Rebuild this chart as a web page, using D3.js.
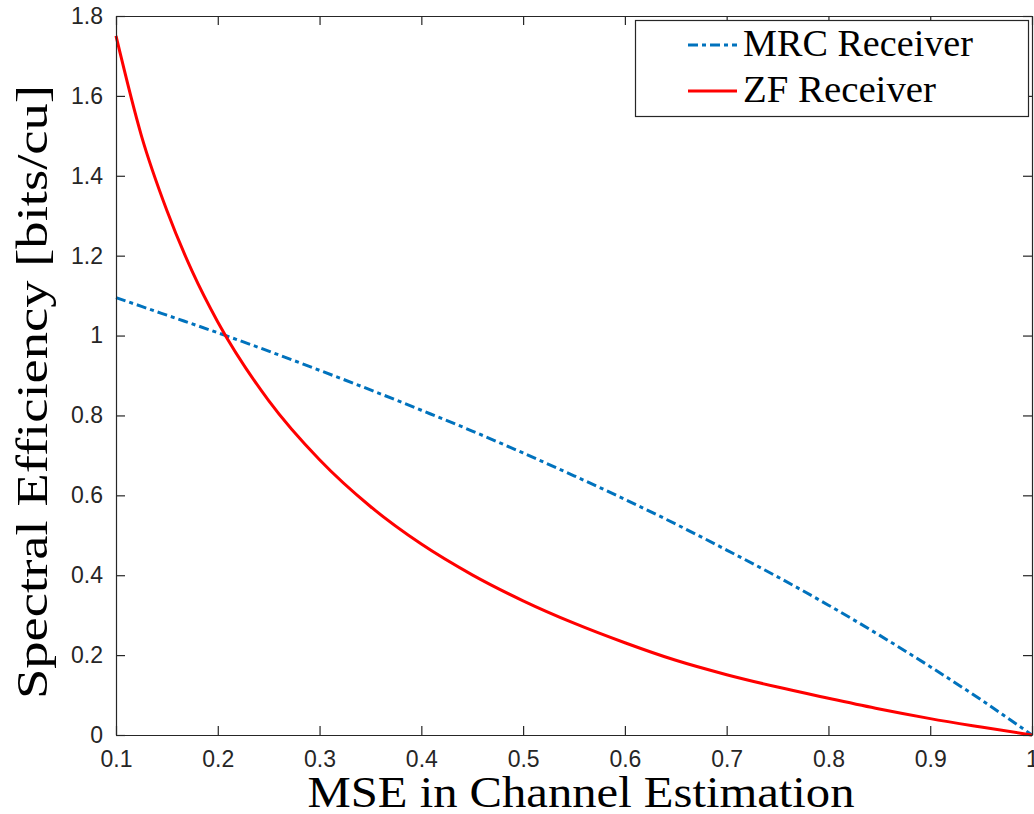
<!DOCTYPE html>
<meta charset="utf-8">
<title>Spectral Efficiency vs MSE</title>
<style type="text/css">
  body {margin:0; background:#fff;}
  .tick text {font-family:"Liberation Sans", Arial, sans-serif; font-size:23px; fill:#262626;}
  .lbl {font-family:"Liberation Serif", "Times New Roman", serif; fill:#000;}
</style>
<body>
<script src="https://d3js.org/d3.v7.min.js"></script>
<div id="chart"></div>
<script>
// MSE values (x) for the MRC curve
var mseMrc = [0.1, 0.15, 0.2, 0.25, 0.3, 0.35, 0.4, 0.45, 0.5, 0.55,
              0.6, 0.65, 0.7, 0.75, 0.8, 0.85, 0.9, 0.95, 1.0];
// ZF is steep at the start, so a few more samples there
var mseZf  = [0.1, 0.125, 0.15, 0.175, 0.2, 0.25, 0.3, 0.35, 0.4, 0.45, 0.5, 0.55,
              0.6, 0.65, 0.7, 0.75, 0.8, 0.85, 0.9, 0.95, 1.0];

var mrc = [1.095, 1.051, 1.007, 0.961, 0.913, 0.864, 0.813, 0.761, 0.706, 0.649,
           0.590, 0.528, 0.463, 0.396, 0.325, 0.250, 0.171, 0.088, 0.0];
var zf  = [1.75, 1.50, 1.313, 1.16, 1.034, 0.837, 0.689, 0.572, 0.478, 0.401, 0.336, 0.280,
           0.231, 0.187, 0.151, 0.120, 0.092, 0.065, 0.041, 0.020, 0.0];

var seriesNames = ["MRC Receiver", "ZF Receiver"];
var xTicks = [0.1, 0.2, 0.3, 0.4, 0.5, 0.6, 0.7, 0.8, 0.9, 1];
var yTicks = [0, 0.2, 0.4, 0.6, 0.8, 1, 1.2, 1.4, 1.6, 1.8];

var W = 1034, H = 814;
var pLeft = 116, pRight = 1032, pTop = 16, pBottom = 735;

var svg = d3.select("#chart").append("svg")
    .attr("width", W).attr("height", H);

var x = d3.scaleLinear().domain([0.1, 1]).range([pLeft, pRight]);
var y = d3.scaleLinear().domain([0, 1.8]).range([pBottom, pTop]);

// lines first, the box goes on top
var line = d3.line()
    .x(function(d) { return x(d[0]); })
    .y(function(d) { return y(d[1]); })
    .curve(d3.curveMonotoneX);

svg.append("clipPath").attr("id", "clip")
  .append("rect").attr("x", pLeft - 2).attr("y", pTop)
    .attr("width", pRight - pLeft + 4).attr("height", pBottom - pTop + 2);

var plot = svg.append("g").attr("clip-path", "url(#clip)");

plot.append("path")
    .datum(mseMrc.map(function(m, i) { return [m, mrc[i]]; }))
    .attr("d", line)
    .attr("fill", "none")
    .attr("stroke", "#0072BD")
    .attr("stroke-width", 3)
    .attr("stroke-dasharray", "10,4,4,4");

plot.append("path")
    .datum(mseZf.map(function(m, i) { return [m, zf[i]]; }))
    .attr("d", line)
    .attr("fill", "none")
    .attr("stroke", "#FF0000")
    .attr("stroke-width", 3);

// axes, matlab style box with inward ticks on all four sides
var fmt = function(d) { return String(+d.toFixed(1)); };

var gx = svg.append("g")
    .attr("transform", "translate(0," + pBottom + ")")
    .call(d3.axisBottom(x).tickValues(xTicks).tickFormat(fmt).tickSizeInner(-9).tickSizeOuter(0).tickPadding(16));
svg.append("g")
    .attr("transform", "translate(0," + pTop + ")")
    .call(d3.axisTop(x).tickValues(xTicks).tickFormat("").tickSizeInner(-9).tickSizeOuter(0));
var gy = svg.append("g")
    .attr("transform", "translate(" + pLeft + ",0)")
    .call(d3.axisLeft(y).tickValues(yTicks).tickFormat(fmt).tickSizeInner(-9).tickSizeOuter(0).tickPadding(13));
svg.append("g")
    .attr("transform", "translate(" + pRight + ",0)")
    .call(d3.axisRight(y).tickValues(yTicks).tickFormat("").tickSizeInner(-9).tickSizeOuter(0));

svg.selectAll(".domain").attr("stroke", "#262626").attr("stroke-width", 1.2);
svg.selectAll(".tick line").attr("stroke", "#262626").attr("stroke-width", 1.2);

// axis labels
svg.append("text").attr("class", "lbl")
    .attr("x", (pLeft + pRight) / 2 + 7).attr("y", 807)
    .attr("text-anchor", "middle")
    .attr("font-size", 44)
    .attr("textLength", 547).attr("lengthAdjust", "spacingAndGlyphs")
    .text("MSE in Channel Estimation");

svg.append("text").attr("class", "lbl")
    .attr("transform", "translate(47," + 392 + ") rotate(-90)")
    .attr("text-anchor", "middle")
    .attr("font-size", 44)
    .attr("textLength", 614).attr("lengthAdjust", "spacingAndGlyphs")
    .text("Spectral Efficiency [bits/cu]");

// legend
var lg = svg.append("g");
lg.append("rect")
    .attr("x", 635.5).attr("y", 20.5).attr("width", 393).attr("height", 96)
    .attr("fill", "#fff").attr("stroke", "#262626").attr("stroke-width", 1.2);

var legendStyle = [
  {color: "#0072BD", dash: "10,4,4,4", ly: 45},
  {color: "#FF0000", dash: null, ly: 91}
];
seriesNames.forEach(function(name, i) {
  var s = legendStyle[i];
  lg.append("line")
      .attr("x1", 688).attr("x2", 737).attr("y1", s.ly).attr("y2", s.ly)
      .attr("stroke", s.color).attr("stroke-width", 3)
      .attr("stroke-dasharray", s.dash);
  lg.append("text").attr("class", "lbl")
      .attr("x", 743).attr("y", s.ly + 11)
      .attr("font-size", 37)
      .attr("textLength", i === 0 ? 230 : 193).attr("lengthAdjust", "spacingAndGlyphs")
      .text(name);
});
</script>
</body>
